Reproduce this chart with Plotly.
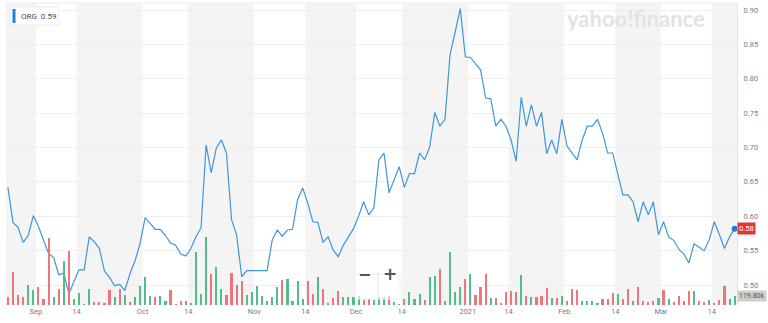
import pandas as pd
import plotly.graph_objects as go

# ---------------- data ----------------
ticker = "ORG"
legend_value = "0.59"
start_date = "2020-08-24"
end_date = "2021-03-19"
market_holidays = ["2020-09-07", "2020-11-26", "2020-12-25",
                   "2021-01-01", "2021-01-18", "2021-02-15"]

close_prices = [
    0.642, 0.591, 0.584, 0.562, 0.572, 0.601, 0.585, 0.565, 0.546, 0.540,
    0.515, 0.517, 0.487, 0.505, 0.522, 0.522, 0.570, 0.563, 0.553, 0.520,
    0.511, 0.499, 0.501, 0.492, 0.516, 0.535, 0.560, 0.598, 0.590, 0.581,
    0.581, 0.572, 0.561, 0.558, 0.545, 0.542, 0.553, 0.570, 0.583, 0.704,
    0.663, 0.699, 0.711, 0.692, 0.595, 0.573, 0.512, 0.521, 0.521, 0.521,
    0.521, 0.521, 0.565, 0.580, 0.571, 0.580, 0.581, 0.624, 0.641, 0.619,
    0.592, 0.591, 0.562, 0.570, 0.551, 0.541, 0.558, 0.570, 0.582, 0.600,
    0.621, 0.602, 0.612, 0.682, 0.692, 0.634, 0.653, 0.672, 0.642, 0.662,
    0.662, 0.692, 0.682, 0.701, 0.751, 0.731, 0.741, 0.835, 0.868, 0.902,
    0.832, 0.831, 0.822, 0.813, 0.772, 0.771, 0.731, 0.741, 0.731, 0.711,
    0.680, 0.773, 0.731, 0.762, 0.731, 0.751, 0.691, 0.711, 0.691, 0.741,
    0.702, 0.692, 0.682, 0.711, 0.731, 0.731, 0.741, 0.721, 0.692, 0.692,
    0.663, 0.631, 0.631, 0.621, 0.592, 0.621, 0.602, 0.621, 0.573, 0.592,
    0.570, 0.565, 0.552, 0.545, 0.532, 0.560, 0.555, 0.550, 0.566, 0.592,
    0.573, 0.553, 0.570, 0.582,
]

# daily volume, thousands of shares
volume_k = [
    106, 434, 133, 106, 266, 200, 234, 80, 892, 106,
    213, 586, 713, 80, 160, 13, 213, 40, 40, 27,
    200, 106, 213, 133, 40, 106, 253, 373, 120, 101,
    120, 53, 200, 13, 53, 53, 27, 700, 146, 905,
    413, 506, 213, 133, 426, 266, 319, 133, 168, 253,
    120, 53, 106, 240, 333, 346, 53, 319, 80, 319,
    146, 373, 213, 27, 93, 186, 106, 106, 106, 120,
    67, 80, 67, 106, 106, 120, 40, 13, 80, 173,
    80, 146, 67, 373, 386, 479, 53, 705, 173, 240,
    346, 413, 133, 240, 413, 93, 93, 27, 173, 186,
    173, 399, 120, 106, 106, 120, 226, 93, 93, 120,
    53, 213, 200, 53, 53, 53, 27, 80, 80, 160,
    146, 80, 213, 53, 240, 53, 40, 53, 93, 200,
    80, 40, 120, 53, 186, 186, 53, 40, 67, 27,
    67, 253, 80, 119.8,
]

# 1 = up day (green volume bar), 0 = down day (red volume bar)
up_day = [
    0, 0, 0, 0, 1, 1, 0, 0, 0, 1,
    0, 1, 0, 1, 1, 1, 1, 0, 0, 0,
    0, 1, 0, 1, 0, 1, 1, 1, 1, 0,
    1, 1, 0, 0, 0, 0, 1, 1, 1, 1,
    0, 1, 1, 0, 0, 0, 0, 1, 1, 1,
    1, 1, 1, 1, 0, 1, 1, 1, 1, 0,
    0, 1, 0, 1, 0, 0, 1, 1, 1, 1,
    0, 0, 1, 1, 1, 0, 1, 1, 0, 1,
    1, 1, 0, 1, 1, 0, 1, 1, 1, 1,
    0, 1, 0, 0, 0, 1, 0, 1, 0, 0,
    0, 1, 0, 1, 0, 0, 0, 1, 0, 1,
    0, 0, 0, 1, 1, 1, 1, 0, 0, 0,
    1, 0, 0, 1, 0, 0, 0, 0, 1, 0,
    1, 0, 0, 0, 0, 1, 0, 0, 1, 0,
    0, 0, 1, 1,
]

tick_days = [("2020-09-01", "Sep"), ("2020-09-14", "14"), ("2020-10-01", "Oct"),
             ("2020-10-14", "14"), ("2020-11-01", "Nov"), ("2020-11-14", "14"),
             ("2020-12-01", "Dec"), ("2020-12-14", "14"), ("2021-01-01", "2021"),
             ("2021-01-14", "14"), ("2021-02-01", "Feb"), ("2021-02-14", "14"),
             ("2021-03-01", "Mar"), ("2021-03-14", "14")]
price_ticks = [0.50, 0.55, 0.60, 0.65, 0.70, 0.75, 0.80, 0.85, 0.90]

# ---------------- build ----------------
trading_days = pd.bdate_range(start_date, end_date, freq="C", holidays=market_holidays)
dates = trading_days + pd.Timedelta(hours=12)
assert len(dates) == len(close_prices) == len(volume_k) == len(up_day)

GREEN = "#53bd8a"
RED = "#ee757b"
BLUE = "#3f97d9"
bar_colors = [GREEN if u else RED for u in up_day]


def tick_pos(day):
    d = pd.Timestamp(day)
    first = trading_days[trading_days >= d][0]
    return first + pd.Timedelta(minutes=1)


tickvals = [tick_pos(d) for d, _ in tick_days]
ticktext = [t for _, t in tick_days]

x_start = trading_days[0] + pd.Timedelta(hours=3)
x_end = trading_days[-1] + pd.Timedelta(hours=23)

fig = go.Figure()
fig.add_trace(go.Bar(x=dates, y=volume_k, yaxis="y2", marker_color=bar_colors,
                     marker_line_width=0, width=0.42 * 86400000, hoverinfo="skip"))
fig.add_trace(go.Scatter(x=dates, y=close_prices, mode="lines",
                         line=dict(color=BLUE, width=1.2), hoverinfo="skip"))
fig.add_trace(go.Scatter(x=[dates[-1]], y=[close_prices[-1]], mode="markers",
                         marker=dict(color="#1e7fd8", size=6), hoverinfo="skip"))

# alternating half-month bands
shapes = []
band_edges = [x_start] + tickvals + [x_end]
for i in range(0, len(band_edges) - 1, 2):
    shapes.append(dict(type="rect", xref="x", yref="paper",
                       x0=band_edges[i], x1=band_edges[i + 1], y0=0, y1=1,
                       fillcolor="#f4f4f4", line_width=0, layer="below"))
# top line
shapes.append(dict(type="line", xref="paper", yref="paper", x0=0, x1=1, y0=1, y1=1,
                   line=dict(color="#ececec", width=1)))
# legend chip
shapes.append(dict(type="rect", xref="paper", yref="paper",
                   x0=(10 - 6) / 731, x1=(58 - 6) / 731,
                   y0=1 - (25 - 3) / 302, y1=1 - (7 - 3) / 302,
                   fillcolor="white", line=dict(color="#ececec", width=1)))
shapes.append(dict(type="rect", xref="paper", yref="paper",
                   x0=(12.5 - 6) / 731, x1=(15.5 - 6) / 731,
                   y0=1 - (23 - 3) / 302, y1=1 - (9 - 3) / 302,
                   fillcolor="#1d83e0", line_width=0))
# zoom control frame
shapes.append(dict(type="rect", xref="paper", yref="paper",
                   x0=(355 - 6) / 731, x1=(400 - 6) / 731,
                   y0=1 - (299 - 3) / 302, y1=1 - (274 - 3) / 302,
                   fillcolor="rgba(255,255,255,0.6)", line=dict(color="#eeeeee", width=1)))
shapes.append(dict(type="line", xref="paper", yref="paper",
                   x0=(378 - 6) / 731, x1=(378 - 6) / 731,
                   y0=1 - (299 - 3) / 302, y1=1 - (272 - 3) / 302,
                   line=dict(color="#e4e4e4", width=1)))

annotations = [
    dict(text=f"{ticker}&nbsp;&nbsp;{legend_value}", xref="paper", yref="paper",
         x=(19 - 6) / 731, y=1 - (16 - 3) / 302, xanchor="left", yanchor="middle",
         showarrow=False, font=dict(family="Roboto", size=8, color="#4a4a4a")),
    dict(text="<b>yahoo!finance</b>", xref="paper", yref="paper",
         x=(636 - 6) / 731, y=1 - (18 - 3) / 302, xanchor="center", yanchor="middle",
         showarrow=False, font=dict(family="Lato", size=22, color="#e3e3e3")),
    dict(text=f"{close_prices[-1]:.2f}", xref="paper", yref="y",
         x=1, y=close_prices[-1], xanchor="left", yanchor="middle", showarrow=False,
         bgcolor="#e8333a", borderpad=1, font=dict(family="Roboto", size=7.5, color="white")),
    dict(text=f"{volume_k[-1]:.2f}k", xref="paper", yref="y2",
         x=1, y=volume_k[-1], xanchor="left", yanchor="middle", showarrow=False,
         bgcolor="#cfcfcf", borderpad=1, font=dict(family="Roboto", size=7, color="#555")),
    dict(text="<b>−</b>", xref="paper", yref="paper",
         x=(364 - 6) / 731, y=1 - (286 - 3) / 302, showarrow=False,
         font=dict(family="DejaVu Sans", size=16, color="#555")),
    dict(text="<b>+</b>", xref="paper", yref="paper",
         x=(390 - 6) / 731, y=1 - (286 - 3) / 302, showarrow=False,
         font=dict(family="DejaVu Sans", size=17, color="#555")),
]

fig.update_layout(
    width=768, height=323,
    margin=dict(l=6, r=31, t=3, b=18),
    paper_bgcolor="white", plot_bgcolor="white",
    showlegend=False, bargap=0,
    font=dict(family="Roboto", size=8, color="#7a7a7a"),
    xaxis=dict(type="date", range=[x_start, x_end],
               rangebreaks=[dict(bounds=["sat", "mon"]), dict(values=market_holidays)],
               tickmode="array", tickvals=tickvals, ticktext=ticktext,
               showgrid=False, zeroline=False, ticks="", showline=False,
               tickfont=dict(size=7.5, color="#7d7d7d")),
    yaxis=dict(side="right", range=[0.47091, 0.91018], tickmode="array",
               tickvals=price_ticks, ticktext=[f"{v:.2f}" for v in price_ticks],
               showgrid=True, gridcolor="#eeeeee", gridwidth=1, zeroline=False,
               ticks="", showline=True, linecolor="#e4e4e4", linewidth=1,
               ticklabelstandoff=4, tickfont=dict(size=7.5, color="#7d7d7d")),
    yaxis2=dict(overlaying="y", range=[0, 4020], visible=False, fixedrange=True),
    shapes=shapes, annotations=annotations,
)

fig.write_html("out.html")
